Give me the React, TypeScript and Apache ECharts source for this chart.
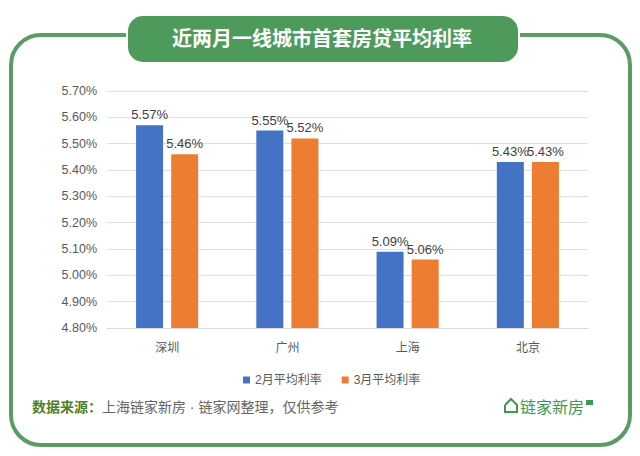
import React, { useEffect, useRef } from "react";
import * as echarts from "echarts";

const categories = ["深圳", "广州", "上海", "北京"];
const febRates = [5.57, 5.55, 5.09, 5.43];
const marRates = [5.46, 5.52, 5.06, 5.43];
const seriesNames = ["2月平均利率", "3月平均利率"];
const titleText = "近两月一线城市首套房贷平均利率";
const sourceLabel = "数据来源：";
const sourceText = "上海链家新房 · 链家网整理，仅供参考";
const logoText = "链家新房";

const FONT = 'Arial, "Liberation Sans", "Noto Sans CJK SC", sans-serif';
const GREEN = "#5a9c64";

export default function App() {
  const ref = useRef<HTMLDivElement>(null);
  useEffect(() => {
    if (!ref.current) return;
    const chart = echarts.init(ref.current, null, { renderer: "svg" });
    chart.setOption({
      animation: false,
      backgroundColor: "#ffffff",
      textStyle: { fontFamily: FONT },
      grid: { left: 107, right: 52, top: 91, bottom: 128 },
      legend: {
        data: seriesNames,
        left: 238,
        top: 369,
        icon: "rect",
        itemWidth: 7,
        itemHeight: 7,
        itemGap: 20,
        textStyle: { fontSize: 12, color: "#595959", fontFamily: FONT },
      },
      xAxis: {
        type: "category",
        data: categories,
        axisLine: { lineStyle: { color: "#d9d9d9" } },
        axisTick: { show: false },
        axisLabel: { fontSize: 12, color: "#595959", margin: 14, fontFamily: FONT },
      },
      yAxis: {
        type: "value",
        min: 4.8,
        max: 5.7,
        interval: 0.1,
        axisLine: { show: false },
        axisTick: { show: false },
        splitLine: { lineStyle: { color: "#e0e0e0" } },
        axisLabel: {
          fontSize: 12.5,
          color: "#595959",
          margin: 10,
          fontFamily: FONT,
          formatter: (v: number) => v.toFixed(2) + "%",
        },
      },
      series: [
        {
          name: seriesNames[0],
          type: "bar",
          data: febRates,
          barWidth: 27,
          barGap: "30%",
          itemStyle: { color: "#4472C4" },
          label: {
            show: true,
            position: "top",
            distance: 4,
            fontSize: 13,
            color: "#404040",
            fontFamily: FONT,
            formatter: (p: any) => p.value.toFixed(2) + "%",
          },
        },
        {
          name: seriesNames[1],
          type: "bar",
          data: marRates,
          barWidth: 27,
          itemStyle: { color: "#ED7D31" },
          label: {
            show: true,
            position: "top",
            distance: 4,
            fontSize: 13,
            color: "#404040",
            fontFamily: FONT,
            formatter: (p: any) => p.value.toFixed(2) + "%",
          },
        },
      ],
      graphic: [
        {
          type: "rect",
          z: -10,
          shape: { x: 11, y: 35, width: 619, height: 410, r: 30 },
          style: { fill: "none", stroke: GREEN, lineWidth: 4 },
        },
        {
          type: "rect",
          z: 10,
          shape: { x: 127, y: 15, width: 392, height: 48, r: 16 },
          style: { fill: "#4e9a5b", stroke: "#ffffff", lineWidth: 2 },
        },
        {
          type: "text",
          z: 11,
          x: 322,
          y: 39,
          style: {
            text: titleText,
            fill: "#ffffff",
            fontSize: 20,
            fontWeight: "bold",
            fontFamily: FONT,
            align: "center",
            verticalAlign: "middle",
          },
        },
        {
          type: "text",
          x: 32,
          y: 407,
          style: {
            text: "{a|" + sourceLabel + "}{b|" + sourceText + "}",
            verticalAlign: "middle",
            rich: {
              a: { fontSize: 14, fontWeight: "bold", fill: "#4f7f2a", fontFamily: FONT },
              b: { fontSize: 14, fill: "#666666", fontFamily: FONT },
            },
          },
        },
        {
          type: "polyline",
          shape: {
            points: [
              [505, 405],
              [511, 399],
              [517, 405],
              [517, 412],
              [505, 412],
              [505, 405],
            ],
          },
          style: { fill: "none", stroke: "#3c9a50", lineWidth: 2 },
        },
        {
          type: "text",
          x: 520,
          y: 407,
          style: {
            text: logoText,
            fill: "#3c9a50",
            fontSize: 16,
            fontFamily: FONT,
            verticalAlign: "middle",
          },
        },
        {
          type: "rect",
          shape: { x: 586, y: 400, width: 7, height: 5 },
          style: { fill: "#3c9a50" },
        },
      ],
    });
    return () => chart.dispose();
  }, []);
  return (
    <div
      ref={ref}
      style={{ position: "fixed", left: 0, top: 0, width: 640, height: 456 }}
    />
  );
}
